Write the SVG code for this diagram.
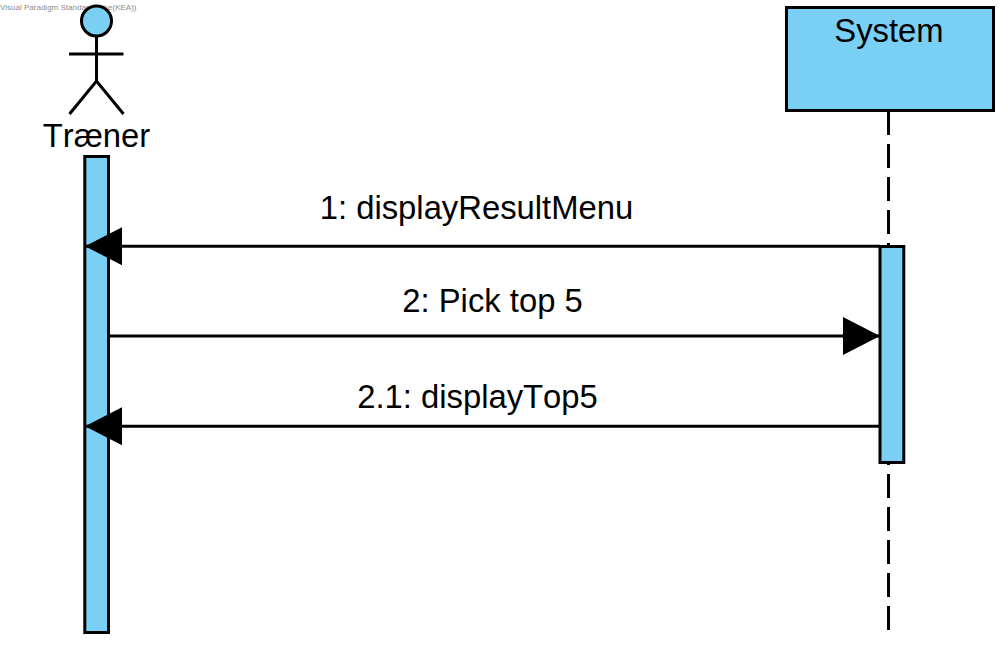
<svg xmlns="http://www.w3.org/2000/svg" width="1008" height="648" viewBox="0 0 1008 648">
<style>
text{font-family:"Liberation Sans",Arial,sans-serif;fill:#000;font-kerning:none}
.lbl{font-size:32.8px;text-anchor:middle}
.wm{font-size:8px;fill:#8c8c8c}
.box{fill:#7acff5;stroke:#000;stroke-width:3}
.ln{fill:none;stroke:#000;stroke-width:3}
.dash{fill:none;stroke:#000;stroke-width:3;stroke-dasharray:24 9}
</style>
<defs>
<marker id="tri" markerUnits="userSpaceOnUse" markerWidth="38" markerHeight="40" refX="37" refY="20" orient="auto"><path d="M0 1L37 20L0 39Z" fill="#000"/></marker>
</defs>
<rect width="1008" height="648" fill="#fff"/>
<text class="wm" x="0" y="10">Visual Paradigm Standard(mike(KEA))</text>
<g id="lifelines">
<path class="dash" d="M888.5 111V630"/>
</g>
<g id="actor-traener">
<circle class="box" cx="96.5" cy="21" r="15"/>
<path class="ln" d="M96.5 36V81M69 54H123.500M69.500 114L96.500 81L123.500 114"/>
<text class="lbl" x="96.500" y="147">Træner</text>
</g>
<g id="activation-traener"><rect class="box" x="84.800" y="156.500" width="23.700" height="476"/></g>
<g id="system">
<rect class="box" x="786.500" y="7.500" width="207" height="103"/>
<text class="lbl" x="889" y="42">System</text>
</g>
<g id="activation-system"><rect class="box" x="880" y="246.500" width="23.800" height="216"/></g>
<g id="connectors">
<path class="ln" d="M880 246.200H85" marker-end="url(#tri)"/>
<path class="ln" d="M108 336H880" marker-end="url(#tri)"/>
<path class="ln" d="M880 426.200H85" marker-end="url(#tri)"/>
</g>
<g id="labels">
<text class="lbl" x="476.500" y="219">1: displayResultMenu</text>
<text class="lbl" x="492.500" y="312">2: Pick top 5</text>
<text class="lbl" x="477.500" y="408">2.1: displayTop5</text>
</g>
</svg>
